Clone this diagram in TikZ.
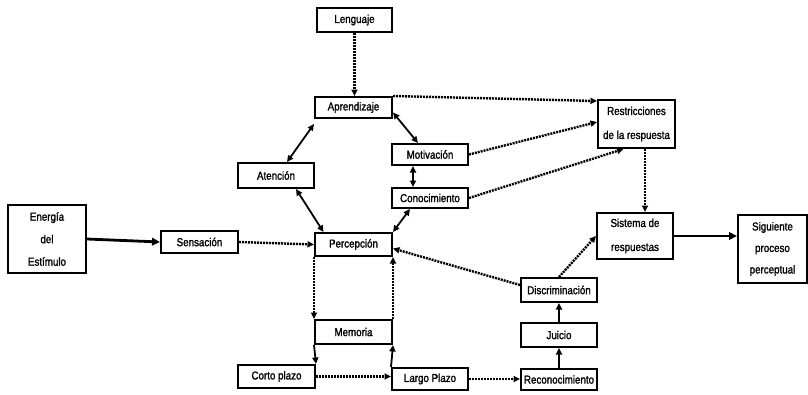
\documentclass[tikz,border=0pt]{standalone}
\usepackage{fontspec}
\setmainfont{Liberation Sans}[FakeStretch=0.85,FakeBold=1.5]
\usetikzlibrary{arrows.meta}
\begin{document}
\begin{tikzpicture}[x=1pt,y=-1pt,
  box/.style={draw,line width=2pt,inner sep=0pt,align=center,
    font=\fontsize{11.5}{22.5}\selectfont},
  tip/.style={-{Triangle[length=6.5pt,width=6pt]}},
  both/.style={{Triangle[length=6.5pt,width=6pt]}-{Triangle[length=6.5pt,width=6pt]}},
  solidln/.style={line width=1.8pt},
  heavy/.style={line width=2.8pt,-{Triangle[length=8pt,width=7.5pt]}},
  dotln/.style={line width=2.4pt,dash pattern=on 2pt off 1pt},
]
\useasboundingbox (0,0) rectangle (808,394);

% boxes
\node[box,minimum width=78pt,minimum height=68pt] (energia) at (47,239) {Energía\\del\\Estímulo};
\node[box,minimum width=77pt,minimum height=22pt] (sens) at (199.5,242) {Sensación};
\node[box,minimum width=77pt,minimum height=23pt] (perc) at (353.5,244.5) {Percepción};
\node[box,minimum width=76pt,minimum height=25pt] (aten) at (276,175.5) {Atención};
\node[box,minimum width=75pt,minimum height=24pt] (leng) at (354.5,20) {Lenguaje};
\node[box,minimum width=77pt,minimum height=21pt] (apre) at (353.5,107.5) {Aprendizaje};
\node[box,minimum width=76pt,minimum height=21pt] (moti) at (430,154.5) {Motivación};
\node[box,minimum width=76pt,minimum height=20pt] (cono) at (430,198) {Conocimiento};
\node[box,minimum width=77pt,minimum height=48pt,font=\fontsize{11.5}{24}\selectfont] (rest) at (636.5,124) {Restricciones\\de la respuesta};
\node[box,minimum width=76pt,minimum height=46pt,font=\fontsize{11.5}{24}\selectfont] (sist) at (635,236) {Sistema de\\respuestas};
\node[box,minimum width=69pt,minimum height=68pt,font=\fontsize{11.5}{21.5}\selectfont] (sig) at (772.5,249) {Siguiente\\proceso\\perceptual};
\node[box,minimum width=76pt,minimum height=24pt] (disc) at (559,290) {Discriminación};
\node[box,minimum width=76pt,minimum height=24pt] (juic) at (559,335) {Juicio};
\node[box,minimum width=76pt,minimum height=21pt] (reco) at (559,379.5) {Reconocimiento};
\node[box,minimum width=77pt,minimum height=24pt] (memo) at (353.5,332) {Memoria};
\node[box,minimum width=77pt,minimum height=23pt] (corto) at (276.5,376.5) {Corto plazo};
\node[box,minimum width=76pt,minimum height=22pt] (largo) at (430,379) {Largo Plazo};

% heavy solid arrows
\draw[heavy] (energia.east) -- (sens.west);
\draw[heavy] (sist.east) -- (sist.east -| sig.west);

% solid two-headed links
\draw[solidln,both] ([yshift=-5pt]apre.south west) -- ([xshift=11pt]aten.north);
\draw[solidln,both] ([yshift=-5pt]apre.east) -- ([xshift=-12pt]moti.north);
\draw[solidln,both] ([xshift=-17pt]moti.south) -- ([xshift=-17pt]cono.north);
\draw[solidln,both] ([xshift=-20pt]cono.south) -- (perc.north east);
\draw[solidln,both] ([xshift=20pt]aten.south) -- ([xshift=-30pt]perc.north);

% solid one-way links
\draw[solidln,tip] (juic.north) -- (disc.south);
\draw[solidln,tip] (reco.north) -- (juic.south);
\draw[solidln,tip] (memo.south west) -- (corto.north east);
\draw[solidln,tip] (largo.north west) -- (memo.south east);

% dotted links
\draw[dotln,tip] (sens.east) -- (perc.west);
\draw[dotln,tip] (leng.south) -- (apre.north -| leng.south);
\draw[dotln,tip] (apre.north east) -- ([yshift=-2pt]rest.north west);
\draw[dotln,tip] (moti.east) -- ([yshift=2pt]rest.west);
\draw[dotln,tip] (cono.east) -- ([xshift=-13pt]rest.south);
\draw[dotln,tip] ([xshift=8.5pt]rest.south) -- ([xshift=8.5pt]rest.south |- sist.north);
\draw[dotln,tip] (disc.north) -- (sist.west);
\draw[dotln,tip] ([yshift=5pt]disc.west) -- ([yshift=-4pt]perc.east);
\draw[dotln,tip] (perc.south west) -- (memo.north west);
\draw[dotln,tip] (memo.north east) -- (perc.south east);
\draw[dotln,tip] (corto.east) -- (corto.east -| largo.west);
\draw[dotln,tip] (largo.east) -- (largo.east -| reco.west);
\end{tikzpicture}
\end{document}
